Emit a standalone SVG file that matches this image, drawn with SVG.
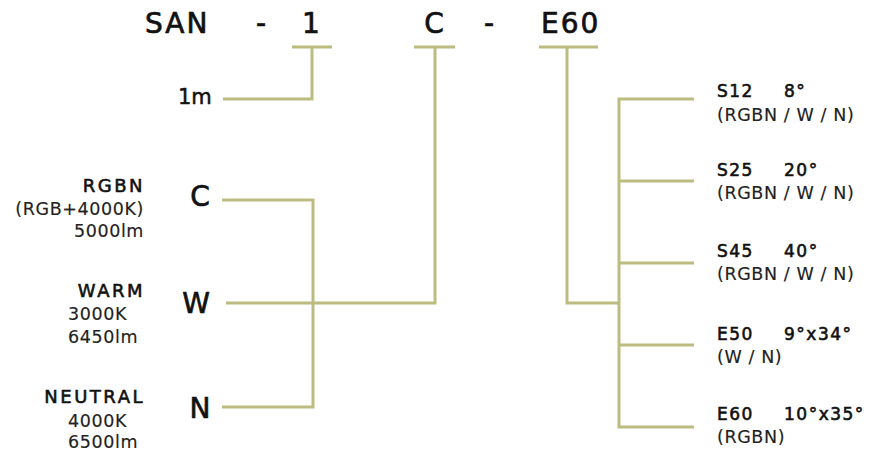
<svg xmlns="http://www.w3.org/2000/svg" width="870" height="452" viewBox="0 0 870 452">
<style>
text{font-family:"DejaVu Sans","Liberation Sans",sans-serif;fill:#111}
.big{font-size:28px;letter-spacing:2px;stroke:#111;stroke-width:0.7}
.t{font-size:17px;letter-spacing:1.5px;stroke:#111;stroke-width:0.6}
.lt{font-size:18px;letter-spacing:2.5px;stroke:#111;stroke-width:0.6}
.s{font-size:17.5px;fill:#222;letter-spacing:0.6px;stroke:#222;stroke-width:0.15}
.end{text-anchor:end}
#connectors path{fill:none;stroke:#bcbc80;stroke-width:3}
</style>
<rect width="870" height="452" fill="#fff"/>
<g id="code">
<text class="big" x="145" y="33">SAN</text>
<text class="big" x="256" y="33">-</text>
<text class="big" x="312" y="33" text-anchor="middle">1</text>
<text class="big" x="435" y="33" text-anchor="middle">C</text>
<text class="big" x="484" y="33">-</text>
<text class="big" x="541" y="33">E60</text>
</g>
<g id="connectors">
<path d="M292 47H332M312 47V99H223"/>
<path d="M414 47H455M435 47V303H226"/>
<path d="M539 47H598M567 47V303H619"/>
<path d="M222 200H313V407H222"/>
<path d="M694 99H619V427H694M619 181H694M619 263H694M619 345H694"/>
</g>
<g id="len-1m"><text x="178" y="104" style="font-size:21px;stroke:#111;stroke-width:0.5">1m</text></g>
<g id="opt-C">
<text class="big" x="201" y="206" text-anchor="middle">C</text>
<text class="lt end" x="145" y="192">RGBN</text>
<text class="s end" x="144" y="215">(RGB+4000K)</text>
<text class="s end" x="144" y="237">5000lm</text>
</g>
<g id="opt-W">
<text class="big" x="197" y="313" text-anchor="middle">W</text>
<text class="lt end" x="145" y="297">WARM</text>
<text class="s" x="68" y="320">3000K</text>
<text class="s" x="68" y="343">6450lm</text>
</g>
<g id="opt-N">
<text class="big" x="201" y="418" text-anchor="middle">N</text>
<text class="lt end" x="145" y="403">NEUTRAL</text>
<text class="s" x="68" y="427">4000K</text>
<text class="s" x="68" y="448">6500lm</text>
</g>
<g id="opt-S12">
<text class="t" x="717" y="97">S12<tspan x="784">8°</tspan></text>
<text class="s" x="717" y="121">(RGBN / W / N)</text>
</g>
<g id="opt-S25">
<text class="t" x="717" y="176">S25<tspan x="784">20°</tspan></text>
<text class="s" x="717" y="199">(RGBN / W / N)</text>
</g>
<g id="opt-S45">
<text class="t" x="717" y="257">S45<tspan x="784">40°</tspan></text>
<text class="s" x="717" y="280">(RGBN / W / N)</text>
</g>
<g id="opt-E50">
<text class="t" x="717" y="340">E50<tspan x="784">9°x34°</tspan></text>
<text class="s" x="717" y="363">(W / N)</text>
</g>
<g id="opt-E60">
<text class="t" x="717" y="420">E60<tspan x="784">10°x35°</tspan></text>
<text class="s" x="717" y="443">(RGBN)</text>
</g>
</svg>
